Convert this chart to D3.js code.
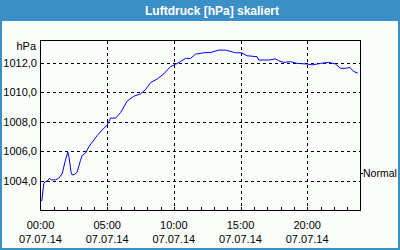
<!DOCTYPE html>
<html>
<head>
<meta charset="utf-8">
<script src="https://cdn.jsdelivr.net/npm/d3@7"></script>
<style>
  body { margin: 0; background: #fff; }
  text { font-family: "Liberation Sans", Arial, sans-serif; }
</style>
</head>
<body>
<svg id="chart" width="400" height="250"></svg>
<script>
// Data (hours since 07.07.14 00:00, pressure in hPa)
const hours = [0, 0.1, 0.25, 0.375, 0.52, 0.67, 0.82, 1.12, 1.37, 1.63, 1.84, 2.05, 2.14, 2.29, 2.38,
    2.57, 2.75, 3.0, 3.13, 3.38, 3.62, 3.9, 4.25, 4.58, 5.0, 5.25, 5.63, 6.0, 6.5, 7.0, 7.5, 7.88,
    8.25, 8.75, 9.25, 9.75, 10.13, 10.5, 10.88, 11.25, 11.63, 12.25, 12.75, 13.37, 13.88, 14.38,
    14.63, 15.05, 15.5, 16.25, 16.37, 17.12, 17.63, 17.87, 18.25, 18.75, 19.25, 20.0, 20.38, 21.0,
    21.62, 22.12, 22.5, 22.88, 23.2, 23.5, 23.8];
const pressure = [1002.67, 1002.67, 1003.85, 1003.95, 1004.0, 1004.18, 1004.07, 1004.07, 1004.18, 1004.5,
    1005.3, 1005.95, 1005.6, 1004.6, 1004.4, 1004.45, 1004.6, 1005.4, 1005.73, 1005.9, 1006.3, 1006.65,
    1007.07, 1007.4, 1007.78, 1008.25, 1008.25, 1008.62, 1009.4, 1009.73, 1009.89, 1010.18, 1010.65,
    1010.89, 1011.25, 1011.73, 1011.89, 1012.07, 1012.29, 1012.29, 1012.58, 1012.67, 1012.69, 1012.85,
    1012.85, 1012.73, 1012.67, 1012.67, 1012.47, 1012.4, 1012.18, 1012.18, 1012.25, 1012.13, 1012.02,
    1012.07, 1011.95, 1011.91, 1011.85, 1011.95, 1012.02, 1011.91, 1011.62, 1011.62, 1011.67, 1011.4,
    1011.29];
const yTicks = [1004, 1006, 1008, 1010, 1012];
const xTicks = [0, 5, 10, 15, 20];
const xTickLabels = ["00:00", "05:00", "10:00", "15:00", "20:00"];
const dateLabel = "07.07.14";
const normalValue = 1004.55;

const svg = d3.select("#chart");
const blue = "#3b8fc7";

// frame + title bar
svg.append("rect").attr("x", 1).attr("y", 1).attr("width", 398).attr("height", 248)
    .attr("fill", "#fbfdfb").attr("stroke", blue).attr("stroke-width", 2);
svg.append("rect").attr("x", 0).attr("y", 0).attr("width", 400).attr("height", 21).attr("fill", blue);
svg.append("text").attr("x", 212).attr("y", 14.5).attr("text-anchor", "middle")
    .attr("fill", "#fff").style("font-weight", "bold").style("font-size", "12px")
    .text("Luftdruck [hPa] skaliert");

// scales
const x = d3.scaleLinear().domain([0, 24]).range([40.5, 360.5]);
const y = d3.scaleLinear().domain([1002, 1013.5]).range([210.5, 40.5]);

// grid
const grid = svg.append("g").attr("stroke", "#000").attr("stroke-dasharray", "3,3")
    .attr("shape-rendering", "crispEdges");
grid.selectAll(".hg").data(yTicks).enter().append("line")
    .attr("x1", x(0)).attr("x2", x(24))
    .attr("y1", d => Math.round(y(d)) + 0.5).attr("y2", d => Math.round(y(d)) + 0.5);
grid.selectAll(".vg").data(xTicks.filter(d => d > 0)).enter().append("line")
    .attr("y1", y.range()[1]).attr("y2", y.range()[0])
    .attr("x1", d => Math.round(x(d)) + 0.5).attr("x2", d => Math.round(x(d)) + 0.5);

// hourly ticks on bottom axis (pointing inward)
svg.append("g").attr("stroke", "#000").attr("shape-rendering", "crispEdges")
    .selectAll("line").data(d3.range(1, 24)).enter().append("line")
    .attr("x1", d => Math.round(x(d)) + 0.5).attr("x2", d => Math.round(x(d)) + 0.5)
    .attr("y1", 207).attr("y2", 210);

// plot border
svg.append("rect").attr("x", 40.5).attr("y", 40.5).attr("width", 320).attr("height", 170)
    .attr("fill", "none").attr("stroke", "#000").attr("shape-rendering", "crispEdges");

// y labels
svg.append("g").selectAll("text").data(yTicks).enter().append("text")
    .attr("x", 37).attr("y", d => y(d) + 4).attr("text-anchor", "end")
    .style("font-size", "11px").text(d => d3.format(".1f")(d).replace(".", ","));
svg.append("text").attr("x", 36).attr("y", 50).attr("text-anchor", "end")
    .style("font-size", "11px").text("hPa");

// x labels
const xl = svg.append("g").selectAll("g").data(xTicks).enter().append("g");
xl.append("text").attr("x", d => x(d)).attr("y", 229).attr("text-anchor", "middle")
    .style("font-size", "11px").text((d, i) => xTickLabels[i]);
xl.append("text").attr("x", d => x(d)).attr("y", 243).attr("text-anchor", "middle")
    .style("font-size", "11px").text(dateLabel);

// normal marker
svg.append("line").attr("x1", 360).attr("x2", 363)
    .attr("y1", Math.round(y(normalValue)) + 0.5).attr("y2", Math.round(y(normalValue)) + 0.5)
    .attr("stroke", "#000").attr("shape-rendering", "crispEdges");
svg.append("text").attr("x", 363).attr("y", y(normalValue) + 4)
    .style("font-size", "10.5px").text("Normal");

// data line
const line = d3.line().x((d, i) => x(hours[i])).y(d => y(d));
svg.append("path").datum(pressure).attr("d", line)
    .attr("fill", "none").attr("stroke", "#0000ff").attr("stroke-width", 1);
</script>
</body>
</html>
